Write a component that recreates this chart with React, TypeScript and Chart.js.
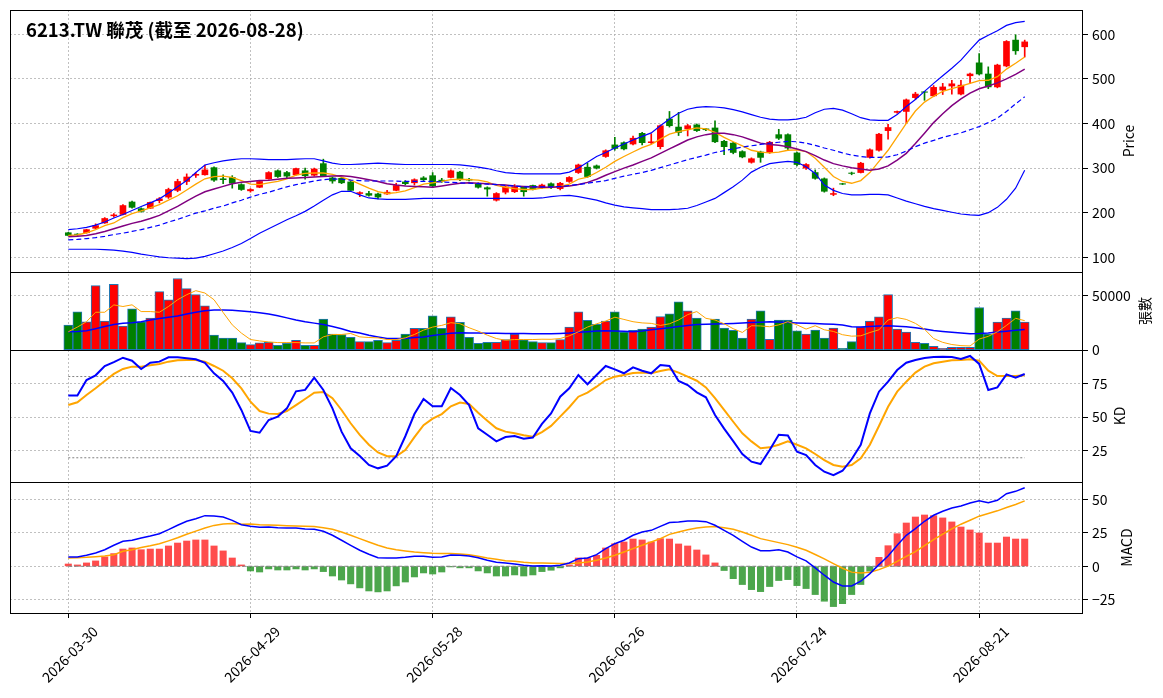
import { useEffect, useRef } from "react";
import { Chart, registerables } from "chart.js";

Chart.register(...registerables);

// trading days shown on the chart
const dates = [
  "2026-03-30", "2026-03-31", "2026-04-01", "2026-04-02", "2026-04-07", "2026-04-08", "2026-04-09", "2026-04-10",
  "2026-04-13", "2026-04-14", "2026-04-15", "2026-04-16", "2026-04-17", "2026-04-20", "2026-04-21", "2026-04-22",
  "2026-04-23", "2026-04-24", "2026-04-27", "2026-04-28", "2026-04-29", "2026-04-30", "2026-05-04", "2026-05-05",
  "2026-05-06", "2026-05-07", "2026-05-08", "2026-05-11", "2026-05-12", "2026-05-13", "2026-05-14", "2026-05-15",
  "2026-05-18", "2026-05-19", "2026-05-20", "2026-05-21", "2026-05-22", "2026-05-25", "2026-05-26", "2026-05-27",
  "2026-05-28", "2026-05-29", "2026-06-01", "2026-06-02", "2026-06-03", "2026-06-04", "2026-06-05", "2026-06-08",
  "2026-06-09", "2026-06-10", "2026-06-11", "2026-06-12", "2026-06-15", "2026-06-16", "2026-06-17", "2026-06-18",
  "2026-06-22", "2026-06-23", "2026-06-24", "2026-06-25", "2026-06-26", "2026-06-29", "2026-06-30", "2026-07-01",
  "2026-07-02", "2026-07-03", "2026-07-06", "2026-07-07", "2026-07-08", "2026-07-09", "2026-07-10", "2026-07-13",
  "2026-07-14", "2026-07-15", "2026-07-16", "2026-07-17", "2026-07-20", "2026-07-21", "2026-07-22", "2026-07-23",
  "2026-07-24", "2026-07-27", "2026-07-28", "2026-07-29", "2026-07-30", "2026-07-31", "2026-08-03", "2026-08-04",
  "2026-08-05", "2026-08-06", "2026-08-07", "2026-08-10", "2026-08-11", "2026-08-12", "2026-08-13", "2026-08-14",
  "2026-08-17", "2026-08-18", "2026-08-19", "2026-08-20", "2026-08-21", "2026-08-24", "2026-08-25", "2026-08-26",
  "2026-08-27", "2026-08-28",
];

const open = [
  155, 152, 155, 165, 177, 193, 196, 224, 209, 210, 227, 235, 250, 270, 284, 285, 301, 276, 279, 263,
  249, 257, 276, 294, 290, 285, 294, 284, 310, 278, 277, 269, 243, 243, 242, 242, 250, 269, 267, 278,
  283, 273, 279, 291, 275, 265, 256, 228, 246, 247, 257, 261, 256, 265, 254, 270, 290, 302, 305, 326,
  352, 357, 354, 378, 357, 348, 410, 392, 388, 397, 388, 390, 360, 356, 337, 313, 336, 335, 375, 375,
  334, 300, 290, 276, 241, 265, 289, 290, 324, 340, 384, 425, 427, 458, 471, 462, 475, 484, 466, 507,
  536, 511, 482, 529, 587, 572,
];
const high = [
  156, 153, 163, 175, 189, 198, 218, 226, 211, 224, 234, 255, 275, 287, 290, 307, 303, 285, 283, 265,
  254, 272, 292, 296, 293, 300, 300, 300, 320, 280, 279, 270, 247, 248, 244, 250, 266, 272, 276, 281,
  290, 277, 296, 293, 277, 267, 258, 245, 260, 263, 258, 262, 264, 267, 268, 281, 309, 311, 307, 341,
  369, 359, 372, 380, 377, 397, 427, 425, 398, 399, 389, 406, 362, 358, 339, 323, 338, 360, 387, 377,
  336, 310, 296, 278, 255, 266, 291, 313, 343, 378, 398, 428, 455, 470, 472, 485, 490, 497, 497, 513,
  557, 527, 533, 586, 599, 587,
];
const low = [
  148, 149, 154, 164, 176, 190, 195, 210, 201, 209, 222, 232, 247, 263, 279, 284, 270, 265, 255, 250,
  246, 256, 275, 279, 277, 284, 275, 282, 281, 266, 265, 248, 236, 237, 231, 241, 249, 262, 262, 272,
  256, 268, 278, 272, 271, 255, 237, 226, 242, 245, 237, 251, 254, 254, 251, 268, 288, 279, 298, 324,
  340, 341, 352, 352, 355, 343, 392, 373, 372, 382, 384, 357, 330, 332, 323, 311, 313, 333, 364, 340,
  305, 297, 275, 246, 238, 263, 285, 289, 322, 338, 365, 423, 400, 454, 452, 460, 465, 466, 464, 490,
  509, 478, 480, 527, 555, 549,
];
const close = [
  149, 151, 162, 171, 187, 195, 216, 212, 203, 223, 231, 252, 270, 280, 286, 296, 273, 274, 266, 252,
  252, 270, 290, 281, 282, 299, 283, 298, 283, 271, 267, 250, 245, 239, 235, 246, 261, 265, 274, 274,
  260, 271, 294, 274, 273, 257, 253, 243, 258, 258, 247, 253, 262, 257, 266, 279, 307, 281, 300, 339,
  344, 343, 367, 357, 359, 395, 395, 380, 395, 384, 386, 359, 348, 335, 325, 321, 324, 358, 367, 345,
  308, 308, 277, 248, 243, 264, 288, 311, 341, 376, 391, 427, 453, 466, 470, 481, 482, 489, 486, 511,
  511, 482, 531, 584, 563, 583,
];

// price overlays
const ma5 = [
  149, 150, 155, 162, 171, 177, 189, 198, 204, 211, 218, 228, 238, 251, 264, 276, 281, 282, 279, 272,
  264, 263, 267, 270, 276, 284, 288, 289, 289, 286, 280, 273, 264, 255, 247, 243, 245, 249, 256, 264,
  267, 270, 274, 275, 274, 273, 269, 261, 257, 254, 252, 252, 255, 256, 259, 264, 275, 280, 290, 302,
  315, 326, 336, 346, 353, 365, 376, 382, 386, 390, 388, 380, 369, 359, 350, 340, 336, 334, 336, 340,
  341, 337, 322, 302, 281, 270, 266, 272, 290, 315, 340, 370, 400, 428, 448, 461, 472, 478, 484, 490,
  496, 497, 505, 522, 535, 549,
];
const ma10 = [
  146, 147, 149, 153, 158, 164, 170, 176, 181, 187, 194, 204, 214, 226, 237, 247, 253, 259, 265, 268,
  270, 272, 273, 275, 277, 278, 279, 280, 281, 282, 283, 281, 278, 274, 270, 265, 262, 260, 259, 258,
  257, 260, 263, 266, 267, 266, 265, 263, 262, 260, 259, 258, 257, 257, 258, 260, 263, 268, 275, 284,
  292, 300, 307, 315, 323, 333, 343, 353, 363, 370, 375, 378, 378, 375, 370, 363, 356, 353, 351, 348,
  343, 337, 328, 318, 310, 305, 301, 298, 295, 298, 305, 318, 333, 355, 378, 402, 422, 440, 455, 468,
  478, 484, 491, 500, 510, 522,
];
const bbMid = [
  139, 140, 142, 144, 147, 151, 154, 158, 162, 167, 172, 179, 185, 192, 199, 204, 210, 215, 222, 228,
  235, 241, 246, 252, 258, 263, 267, 271, 274, 276, 275, 273, 272, 271, 271, 271, 271, 270, 270, 270,
  270, 269, 268, 267, 266, 265, 264, 263, 261, 260, 258, 258, 258, 258, 259, 261, 263, 266, 269, 272,
  277, 282, 286, 290, 295, 301, 307, 313, 319, 324, 329, 335, 339, 343, 347, 350, 353, 356, 358, 360,
  359, 356, 351, 345, 340, 334, 329, 326, 324, 324, 325, 330, 338, 348, 356, 362, 369, 374, 379, 386,
  393, 402, 412, 427, 444, 460,
];
const bbUpper = [
  162, 164, 167, 172, 179, 188, 196, 205, 214, 222, 231, 244, 258, 272, 290, 307, 312, 316, 319, 321,
  321, 320, 319, 319, 319, 320, 321, 321, 316, 311, 308, 308, 309, 310, 311, 310, 309, 308, 308, 308,
  308, 308, 308, 307, 305, 302, 299, 294, 290, 288, 287, 287, 287, 287, 287, 291, 300, 313, 326, 335,
  345, 354, 363, 371, 379, 395, 410, 423, 432, 436, 438, 437, 435, 431, 426, 420, 414, 410, 408, 408,
  410, 414, 424, 432, 434, 430, 422, 413, 408, 407, 407, 420, 438, 454, 472, 490, 507, 524, 542, 565,
  587, 598, 608, 620, 626, 629,
];
const bbLower = [
  118, 118, 118, 118, 117, 116, 114, 111, 107, 104, 101, 99, 98, 97, 98, 102, 108, 114, 122, 131,
  142, 154, 164, 174, 184, 193, 203, 215, 228, 240, 248, 248, 240, 233, 231, 230, 230, 230, 231, 232,
  232, 232, 232, 232, 232, 232, 232, 232, 232, 232, 232, 232, 233, 236, 238, 239, 236, 232, 228, 222,
  217, 213, 211, 209, 207, 207, 207, 208, 210, 216, 224, 232, 245, 258, 273, 291, 302, 310, 313, 315,
  313, 303, 288, 262, 250, 243, 240, 240, 241, 241, 240, 233, 226, 220, 214, 209, 205, 201, 197, 195,
  194, 200, 212, 230, 255, 295,
];

// volume (張) and its averages
const volume = [
  22870, 34900, 25900, 58950, 26500, 60180, 21900, 37650, 25900, 29300, 53400, 46000, 65430, 56170, 50620, 40430,
  13580, 10800, 10800, 6790, 4940, 6480, 7100, 4320, 6170, 8950, 4320, 4320, 28400, 14500, 14200, 11700,
  7720, 7720, 8950, 6790, 8950, 14500, 19750, 19750, 31200, 19750, 30250, 25300, 11700, 6170, 7100, 7100,
  9570, 14500, 9260, 7720, 6790, 6790, 9570, 21000, 34900, 27150, 23460, 26500, 34900, 16360, 17900, 19100,
  21000, 30560, 33030, 44130, 35800, 29300, 0, 28400, 20060, 17900, 10800, 28400, 35800, 9880, 27470, 27470,
  17590, 14500, 18200, 10800, 20060, 1540, 7720, 21000, 26500, 30250, 50620, 19140, 16360, 7100, 6170, 3400,
  1540, 2470, 2470, 2470, 38890, 14500, 25620, 29300, 35800, 25620,
];
const volMa5 = [
  16670, 20990, 25900, 34570, 34570, 41290, 39810, 41350, 35180, 35180, 34570, 39810, 45990, 50620, 54320, 52160,
  45990, 34320, 23000, 15500, 9570, 8330, 7410, 6790, 6790, 6790, 6480, 6480, 12040, 14200, 14200, 15120,
  12040, 11420, 11100, 9570, 9570, 11100, 14200, 18200, 20990, 22530, 25000, 24070, 20370, 17280, 13580, 10490,
  8950, 9570, 9570, 9570, 9880, 9800, 10490, 13000, 16670, 21000, 24000, 26500, 30000, 28000, 25900, 24800,
  24380, 22500, 24000, 27470, 32410, 35180, 29000, 27470, 24000, 19500, 16050, 22220, 22000, 21300, 23000, 25900,
  23000, 19140, 22220, 18500, 17000, 14000, 12660, 13000, 16000, 18500, 27470, 29620, 28000, 24380, 19000, 10490,
  7000, 5000, 4000, 3700, 10000, 12500, 16670, 22500, 29000, 26850,
];
const volMa20 = [
  16670, 17000, 17590, 19500, 21600, 23300, 24400, 25000, 25800, 27500, 28900, 30000, 31200, 33000, 34600, 36000,
  36700, 36700, 36300, 35800, 35000, 34200, 33000, 31300, 29400, 27500, 25800, 24600, 23400, 21500, 19500, 17000,
  15500, 13500, 12000, 10500, 10500, 10500, 11500, 12000, 13300, 14300, 15400, 15700, 15600, 15500, 15400, 15300,
  15200, 15100, 15000, 14900, 14800, 14900, 15200, 15600, 16200, 16800, 17300, 17600, 17400, 17100, 16800, 17400,
  18500, 19500, 20300, 21500, 22500, 23300, 23600, 23800, 24000, 24300, 24700, 25100, 25500, 25900, 25600, 25100,
  24700, 24400, 24200, 23900, 23600, 22800, 21300, 21000, 21500, 22000, 22200, 21800, 21300, 20300, 19200, 17800,
  17000, 16200, 15500, 14900, 15000, 15600, 16400, 17200, 18000, 18800,
];

// stochastic
const kLine = [
  65.9, 65.9, 77.4, 80.9, 87.8, 90.7, 93.9, 91.7, 85.6, 90.2, 91.0, 94.2, 94.2, 93.5, 92.7, 90.2,
  82.4, 76.7, 68.1, 55.3, 39.8, 38.5, 47.9, 50.4, 56.5, 69.1, 70.1, 79.1, 70.1, 56.5, 39.3, 27.0,
  21.3, 14.7, 12.2, 14.2, 21.1, 35.9, 52.3, 63.4, 58.0, 58.0, 71.5, 66.3, 58.9, 41.8, 37.0, 32.1,
  35.3, 36.1, 34.1, 34.9, 45.0, 52.8, 65.1, 71.3, 81.1, 74.3, 81.1, 87.8, 85.3, 82.4, 86.8, 84.3,
  82.4, 88.5, 87.8, 76.7, 73.7, 68.3, 64.7, 51.6, 41.5, 32.3, 22.8, 17.1, 15.4, 25.7, 37.0, 36.5,
  24.5, 22.0, 14.7, 9.7, 7.1, 10.4, 18.9, 29.6, 52.8, 68.8, 76.2, 84.8, 90.2, 92.2, 93.7, 94.4,
  94.7, 94.4, 93.0, 95.2, 89.3, 70.1, 72.0, 81.6, 79.1, 81.9,
];
const dLine = [
  59.0, 61.0, 66.4, 71.3, 76.7, 81.9, 85.6, 87.3, 87.3, 88.3, 89.3, 91.0, 92.0, 92.2, 92.2, 91.0,
  87.8, 84.3, 78.7, 71.3, 61.4, 54.5, 52.6, 52.3, 54.5, 58.9, 63.4, 68.1, 68.6, 64.0, 55.3, 45.5,
  36.9, 29.6, 23.9, 21.1, 21.1, 25.7, 35.3, 44.1, 48.9, 52.3, 58.0, 60.8, 59.7, 53.3, 47.4, 41.8,
  39.3, 38.1, 36.6, 35.6, 39.0, 43.5, 50.4, 57.3, 65.1, 68.1, 72.5, 77.4, 79.9, 81.1, 82.6, 82.9,
  82.4, 84.1, 85.3, 82.9, 79.9, 76.9, 72.0, 64.0, 55.3, 46.6, 38.1, 32.1, 27.0, 27.7, 29.6, 32.1,
  29.6, 27.0, 22.8, 18.3, 14.7, 13.4, 14.7, 19.6, 29.6, 43.5, 57.7, 68.8, 76.2, 82.9, 87.3, 89.8,
  91.0, 92.0, 92.2, 92.7, 91.7, 84.3, 80.4, 80.4, 80.4, 80.9,
];
const kdLevels = [20, 80];

// MACD
const dif = [
  7.0, 7.0, 8.2, 10.0, 12.4, 15.7, 18.7, 19.5, 21.2, 22.7, 24.4, 27.4, 30.7, 33.7, 35.6, 37.9,
  37.6, 36.9, 34.4, 31.1, 29.9, 29.2, 29.4, 28.9, 28.7, 28.7, 27.9, 27.7, 26.2, 23.2, 19.5, 15.7,
  12.0, 9.0, 6.4, 6.2, 6.2, 6.7, 7.5, 7.5, 6.7, 7.0, 8.5, 8.2, 7.7, 6.4, 4.5, 3.0,
  2.5, 1.7, 0.7, 0.2, 0.3, 0.2, 0.7, 2.5, 5.7, 6.2, 8.7, 13.2, 16.9, 19.5, 23.2, 25.7,
  26.9, 29.9, 32.7, 33.2, 33.9, 33.9, 33.4, 30.7, 26.9, 23.2, 18.7, 14.4, 11.7, 11.7, 12.4, 10.7,
  7.0, 4.0, -1.2, -6.7, -11.8, -14.7, -14.7, -11.2, -5.5, 1.2, 7.7, 15.7, 23.2, 28.2, 33.7, 38.2,
  41.2, 43.6, 45.1, 47.4, 49.1, 47.6, 49.4, 54.3, 56.1, 58.8,
];
const signal = [
  6.2, 6.4, 6.7, 7.2, 7.7, 8.7, 11.2, 12.4, 14.0, 15.3, 16.8, 19.0, 21.3, 24.0, 26.3, 28.7,
  30.6, 31.7, 32.0, 31.5, 31.7, 31.1, 30.9, 30.7, 30.4, 30.2, 29.9, 29.7, 28.9, 27.7, 25.7, 23.2,
  20.7, 18.2, 15.7, 13.7, 12.4, 11.5, 10.7, 10.2, 9.7, 9.5, 9.5, 9.2, 8.7, 7.5, 6.2, 5.2,
  4.2, 3.7, 3.0, 2.5, 2.4, 2.2, 2.0, 2.0, 2.5, 3.2, 4.5, 6.2, 8.2, 10.7, 13.2, 15.7,
  18.2, 20.7, 23.9, 25.7, 27.4, 28.7, 29.4, 29.7, 28.9, 27.7, 25.7, 23.2, 20.7, 19.2, 17.7, 16.2,
  14.2, 12.0, 8.8, 5.5, 2.0, -1.5, -4.4, -5.0, -4.5, -2.5, 0.1, 3.6, 7.4, 11.0, 15.5, 20.0,
  24.0, 28.0, 31.5, 34.5, 37.5, 39.5, 41.5, 44.0, 46.3, 49.0,
];
const osc = [
  1.7, 1.0, 2.5, 4.0, 7.0, 9.5, 12.9, 13.7, 12.4, 12.9, 12.9, 15.2, 17.4, 18.9, 19.7, 19.7,
  15.2, 11.5, 6.2, 1.0, -3.5, -4.3, -2.0, -2.8, -2.8, -2.0, -2.8, -2.0, -4.0, -7.3, -10.3, -13.2,
  -16.2, -18.5, -19.2, -18.5, -14.7, -11.8, -8.0, -5.0, -5.8, -4.3, -0.5, -1.2, -1.2, -3.5, -5.0, -7.3,
  -7.3, -6.5, -7.3, -6.5, -4.0, -3.0, -1.2, 1.0, 6.2, 6.2, 8.2, 13.7, 16.9, 18.2, 20.4, 19.7,
  18.2, 20.7, 20.4, 16.7, 15.2, 12.2, 8.5, 2.5, -3.2, -9.3, -13.7, -17.5, -19.0, -15.2, -10.7, -10.0,
  -14.5, -16.7, -21.2, -26.2, -30.2, -28.0, -21.2, -13.7, -3.7, 6.7, 15.4, 24.4, 32.4, 36.9, 38.4, 37.9,
  36.2, 33.2, 29.4, 27.2, 24.9, 17.4, 17.4, 21.9, 20.4, 20.4,
];

const xTicks = [0, 20, 40, 60, 80, 100];
const priceTicks = [100, 200, 300, 400, 500, 600];
const volTicks = [0, 50000];
const kdTicks = [25, 50, 75];
const macdTicks = [-25, 0, 25, 50];

const FONT = "'Noto Sans CJK TC', 'Noto Sans', sans-serif";
const UP = "#ff0000";
const DOWN = "#008000";

const pts = (arr: number[]) => arr.map((y, i) => ({ x: i, y }));
const candleColors = close.map((c, i) => (c >= open[i] ? UP : DOWN));

function yAxis(weight: number, min: number, max: number, ticks: number[], fmt?: (v: number) => string) {
  return {
    type: "linear" as const,
    position: "right" as const,
    stack: "panels",
    stackWeight: weight,
    min,
    max,
    afterBuildTicks: (s: any) => {
      s.ticks = ticks.map((v) => ({ value: v }));
    },
    afterFit: (s: any) => {
      s.width = 80;
      s.paddingTop = 0;
      s.paddingBottom = 0;
    },
    grid: { color: "#b0b0b0", lineWidth: 0.8, tickLength: 5, tickColor: "#000", tickWidth: 1 },
    border: { display: false, dash: [2, 2] },
    ticks: {
      color: "#000",
      padding: 4,
      font: { family: FONT, size: 14 },
      callback: (v: any) => (fmt ? fmt(Number(v)) : String(v)),
    },
  };
}

const framePlugin = {
  id: "frame",
  afterDraw(chart: any) {
    const { ctx, chartArea } = chart;
    ctx.save();
    ctx.strokeStyle = "#000";
    ctx.lineWidth = 1;
    const labels: [string, string, number][] = [
      ["yPrice", "Price", 1129],
      ["yVol", "張數", 1145],
      ["yKD", "KD", 1120],
      ["yMACD", "MACD", 1127],
    ];
    for (const [id, text, x] of labels) {
      const s = chart.scales[id];
      const top = Math.round(s.top) + 0.5;
      const h = Math.round(s.bottom) - Math.round(s.top);
      ctx.strokeRect(Math.round(chartArea.left) + 0.5, top, Math.round(chartArea.right - chartArea.left) - 1, h);
      ctx.save();
      ctx.translate(x, (s.top + s.bottom) / 2);
      ctx.rotate(-Math.PI / 2);
      ctx.fillStyle = "#000";
      ctx.font = `14px ${FONT}`;
      ctx.textAlign = "center";
      ctx.textBaseline = "middle";
      ctx.fillText(text, 0, 0);
      ctx.restore();
    }
    ctx.fillStyle = "#000";
    ctx.font = `bold 18.5px ${FONT}`;
    ctx.textAlign = "left";
    ctx.textBaseline = "alphabetic";
    ctx.fillText("6213.TW 聯茂 (截至 2026-08-28)", 26, 37);
    ctx.restore();
  },
};

function line(data: number[], color: string, width: number, yAxisID: string, dash: number[] = []) {
  return {
    type: "line" as const,
    data: pts(data),
    yAxisID,
    borderColor: color,
    borderWidth: width,
    borderDash: dash,
    pointRadius: 0,
    tension: 0,
    fill: false,
    order: 0,
  };
}

function levelLine(value: number, yAxisID: string, dash: number[]) {
  return {
    type: "line" as const,
    data: [
      { x: 0, y: value },
      { x: close.length - 1, y: value },
    ],
    yAxisID,
    borderColor: "#808080",
    borderWidth: 1,
    borderDash: dash,
    pointRadius: 0,
    fill: false,
    order: 1,
  };
}

export default function App() {
  const chartRef = useRef<HTMLCanvasElement | null>(null);

  useEffect(() => {
    if (!chartRef.current) return;

    const chart = new Chart(chartRef.current, {
      type: "bar",
      data: {
        datasets: [
          // candles: wick then body
          {
            type: "bar",
            data: close.map((_, i) => ({ x: i, y: [low[i], high[i]] })),
            yAxisID: "yPrice",
            backgroundColor: candleColors,
            barThickness: 1,
            grouped: false,
            order: 5,
          },
          {
            type: "bar",
            data: close.map((c, i) => ({ x: i, y: [Math.min(open[i], c), Math.max(open[i], c)] })),
            yAxisID: "yPrice",
            backgroundColor: candleColors,
            barThickness: 6,
            grouped: false,
            order: 4,
          },
          line(bbUpper, "#0000ff", 1.2, "yPrice"),
          line(bbLower, "#0000ff", 1.2, "yPrice"),
          line(bbMid, "#0000ff", 1.2, "yPrice", [5, 3]),
          line(ma10, "#800080", 1.5, "yPrice"),
          line(ma5, "#ffa500", 1.3, "yPrice"),
          // volume
          {
            type: "bar",
            data: pts(volume),
            yAxisID: "yVol",
            backgroundColor: candleColors,
            borderColor: "#1f77b4",
            borderWidth: 1,
            borderSkipped: false,
            barThickness: 9,
            grouped: false,
            order: 5,
          },
          line(volMa5, "#ffa500", 1, "yVol"),
          line(volMa20, "#0000ff", 1.5, "yVol"),
          // KD
          levelLine(kdLevels[0], "yKD", [2, 2]),
          levelLine(kdLevels[1], "yKD", [2, 2]),
          line(kLine, "#0000ff", 2, "yKD"),
          line(dLine, "#ffa500", 2, "yKD"),
          // MACD
          {
            type: "bar",
            data: pts(osc),
            yAxisID: "yMACD",
            backgroundColor: osc.map((v) => (v >= 0 ? "rgba(255,0,0,0.7)" : "rgba(0,128,0,0.7)")),
            barThickness: 6.4,
            grouped: false,
            order: 5,
          },
          levelLine(0, "yMACD", [4, 2]),
          line(dif, "#0000ff", 1.5, "yMACD"),
          line(signal, "#ffa500", 1.5, "yMACD"),
        ] as any,
      },
      options: {
        responsive: false,
        animation: false,
        events: [],
        layout: { padding: { left: 10, top: 10, right: 0, bottom: 0 } },
        plugins: { legend: { display: false }, tooltip: { enabled: false } },
        scales: {
          x: {
            type: "linear",
            min: -6.4,
            max: 111.4,
            offset: false,
            afterBuildTicks: (s: any) => {
              s.ticks = xTicks.map((v) => ({ value: v }));
            },
            afterFit: (s: any) => {
              s.height = 85;
              s.paddingLeft = 0;
              s.paddingRight = 0;
            },
            grid: {
              offset: false,
              color: "#b0b0b0",
              lineWidth: 0.8,
              tickLength: 5,
              tickColor: "#000",
              tickWidth: 1,
            },
            border: { display: false, dash: [2, 2] },
            ticks: {
              color: "#000",
              autoSkip: false,
              minRotation: 45,
              maxRotation: 45,
              labelOffset: 27,
              padding: 5,
              font: { family: FONT, size: 14 },
              callback: (v: any) => dates[Number(v)] ?? "",
            },
          },
          yPrice: yAxis(262, 67, 654.5, priceTicks),
          yVol: yAxis(78, 0, 71400, volTicks),
          yKD: yAxis(132, 2.1, 99.6, kdTicks),
          yMACD: yAxis(131, -35, 63.1, macdTicks, (v) => String(v).replace("-", "\u2212")),
        } as any,
      },
      plugins: [framePlugin],
    });

    return () => {
      chart.destroy();
    };
  }, []);

  return (
    <div style={{ position: "absolute", left: 0, top: 0, width: 1163, height: 698, background: "#fff" }}>
      <canvas ref={chartRef} width={1163} height={698} />
    </div>
  );
}
